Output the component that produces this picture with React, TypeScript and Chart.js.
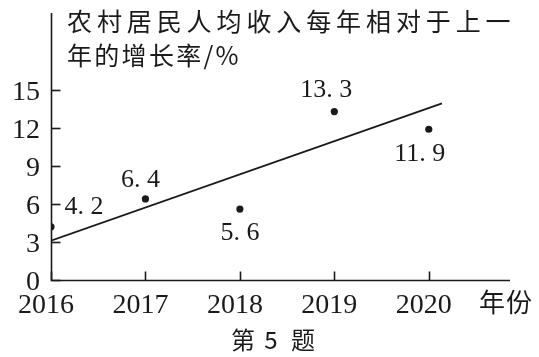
import React, { useEffect, useRef } from "react";
import { Chart, registerables } from "chart.js";

Chart.register(...registerables);

const years = [2016, 2017, 2018, 2019, 2020];
const rates = [4.2, 6.4, 5.6, 13.3, 11.9];
const trendX = [2016, 2020.14];
const trendY = [3.1, 13.95];
const yTickValues = [0, 3, 6, 9, 12, 15];
const titleLine1 = "农村居民人均收入每年相对于上一";
const titleLine2 = "年的增长率/%";
const xAxisName = "年份";
const captionParts = ["第", "5", "题"];

const X_MIN = 2016;
const X_MAX = 2020.86;
const Y_MIN = 0;
const Y_MAX = 21.08;

// label offsets (px) relative to each point: [dx, dy]
const labelOffsets: [number, number][] = [
  [33, -20],
  [-5, -19],
  [0, 24],
  [-8, -21],
  [-9, 25],
];
const captionX = [243, 271, 303];

const INK = "#1a1a1a";
const SERIF = "'Liberation Serif', 'DejaVu Serif', serif";
const CJK = "'Noto Sans CJK SC', sans-serif";

export default function App() {
  const ref = useRef<HTMLCanvasElement | null>(null);

  useEffect(() => {
    const canvas = ref.current;
    if (!canvas) return;

    const decor = {
      id: "decor",
      afterDraw(chart: any) {
        const ctx = chart.ctx as CanvasRenderingContext2D;
        const xs = chart.scales.x;
        const ys = chart.scales.y;
        const area = chart.chartArea;
        ctx.save();
        ctx.strokeStyle = INK;
        ctx.lineWidth = 1.6;
        ctx.lineCap = "butt";
        // axes
        const ax = area.left + 0.5;
        const ay = area.bottom + 0.5;
        ctx.beginPath();
        ctx.moveTo(ax, area.top);
        ctx.lineTo(ax, ay);
        ctx.lineTo(area.right, ay);
        ctx.stroke();
        // inner tick marks
        yTickValues.forEach((v) => {
          const py = Math.round(ys.getPixelForValue(v)) + 0.5;
          ctx.beginPath();
          ctx.moveTo(ax, py);
          ctx.lineTo(ax + 9, py);
          ctx.stroke();
        });
        years.forEach((v) => {
          const px = Math.round(xs.getPixelForValue(v)) + 0.5;
          ctx.beginPath();
          ctx.moveTo(px, ay);
          ctx.lineTo(px, ay - 9);
          ctx.stroke();
        });
        // point value labels
        ctx.fillStyle = INK;
        ctx.font = `26px ${SERIF}`;
        ctx.textAlign = "center";
        ctx.textBaseline = "middle";
        years.forEach((yr, i) => {
          const px = xs.getPixelForValue(yr);
          const py = ys.getPixelForValue(rates[i]);
          const [dx, dy] = labelOffsets[i];
          const txt = rates[i].toFixed(1).replace(".", ". ");
          ctx.fillText(txt, px + dx, py + dy);
        });
        // title
        ctx.textAlign = "left";
        ctx.font = `25px ${CJK}`;
        (ctx as any).letterSpacing = "4.9px";
        ctx.fillText(titleLine1, 67, 21);
        (ctx as any).letterSpacing = "2.3px";
        ctx.fillText(titleLine2, 67, 55);
        // x-axis name
        (ctx as any).letterSpacing = "1px";
        ctx.font = `26px ${CJK}`;
        ctx.fillText(xAxisName, 479, 302);
        // caption
        (ctx as any).letterSpacing = "0px";
        ctx.font = `24px ${CJK}`;
        ctx.textAlign = "center";
        captionParts.forEach((t, i) => ctx.fillText(t, captionX[i], 340));
        ctx.restore();
      },
    };

    const chart = new Chart(canvas, {
      type: "scatter",
      data: {
        datasets: [
          {
            type: "line",
            data: trendX.map((x, i) => ({ x, y: trendY[i] })),
            borderColor: INK,
            borderWidth: 1.8,
            pointRadius: 0,
            fill: false,
          } as any,
          {
            type: "scatter",
            data: years.map((x, i) => ({ x, y: rates[i] })),
            backgroundColor: INK,
            borderColor: INK,
            pointRadius: 3.6,
            borderWidth: 0,
          },
        ],
      },
      options: {
        responsive: false,
        animation: false,
        events: [],
        layout: { padding: { top: 13, right: 29, left: 0, bottom: 0 } },
        plugins: {
          legend: { display: false },
          tooltip: { enabled: false },
          title: { display: false },
        },
        scales: {
          x: {
            type: "linear",
            min: X_MIN,
            max: X_MAX,
            afterBuildTicks: (s: any) => {
              s.ticks = years.map((v) => ({ value: v }));
            },
            afterFit: (s: any) => {
              s.height = 77;
              s.paddingLeft = 0;
              s.paddingRight = 0;
              s.paddingTop = 0;
              s.paddingBottom = 0;
            },
            grid: { display: false },
            border: { display: false },
            ticks: {
              callback: (v: any) => String(v),
              font: { family: SERIF, size: 28 },
              color: INK,
              padding: 1,
              labelOffset: -5,
              maxRotation: 0,
              autoSkip: false,
            },
          },
          y: {
            type: "linear",
            min: Y_MIN,
            max: Y_MAX,
            afterBuildTicks: (s: any) => {
              s.ticks = yTickValues.map((v) => ({ value: v }));
            },
            afterFit: (s: any) => {
              s.width = 51;
              s.paddingTop = 0;
              s.paddingBottom = 0;
              s.paddingLeft = 0;
              s.paddingRight = 0;
            },
            grid: { display: false },
            border: { display: false },
            ticks: {
              callback: (v: any) => String(v),
              font: { family: SERIF, size: 28 },
              color: INK,
              padding: 3,
              labelOffset: 3,
              autoSkip: false,
            },
          },
        },
      },
      plugins: [decor],
    } as any);

    return () => chart.destroy();
  }, []);

  return (
    <div style={{ position: "absolute", left: 0, top: 0, width: 539, height: 357, background: "#fff" }}>
      <canvas ref={ref} width={539} height={357} style={{ width: 539, height: 357, display: "block" }} />
    </div>
  );
}
